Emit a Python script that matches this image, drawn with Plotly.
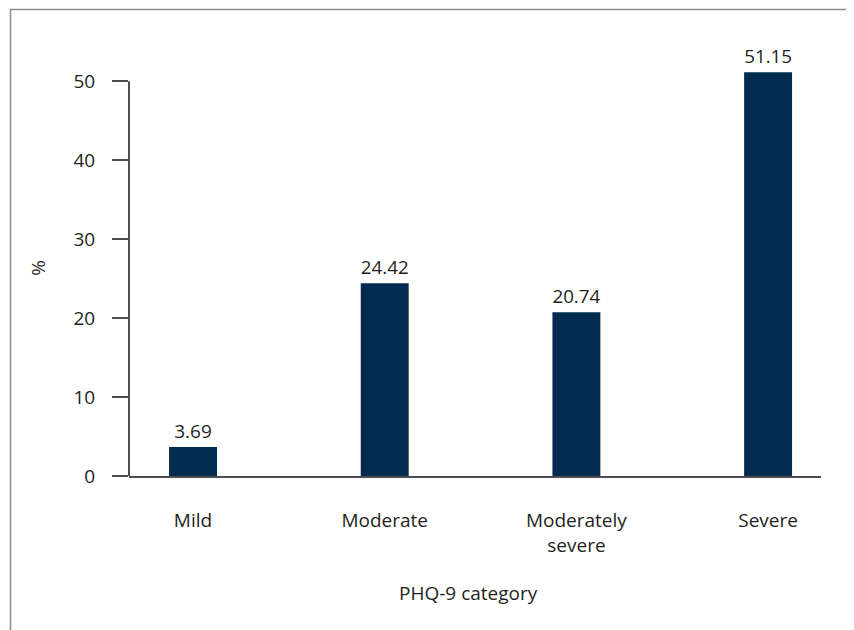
import plotly.graph_objects as go

categories = ["Mild", "Moderate", "Moderately<br>severe", "Severe"]
values = [3.69, 24.42, 20.74, 51.15]
value_labels = ["3.69", "24.42", "20.74", "51.15"]
y_ticks = [0, 10, 20, 30, 40, 50]
x_title = "PHQ-9 category"
y_title = "%"

# page body has an 8px default margin, so the figure is offset by 8px
OFF = 8
W, H = 846, 622
L, R, T = 121, 33, 26
pw = W - L - R
ph = 442.4
B = H - T - ph

def px(x):
    return (x - OFF - L) / pw

def py(y):
    return (H - B - (y - OFF)) / ph

FONT = "Open Sans"
FS = 19
TXT = "#231f20"
AX = "#4d4d4d"

fig = go.Figure(go.Bar(
    x=list(range(len(categories))),
    y=values,
    width=0.25,
    marker=dict(color="#022b4f", line=dict(width=0)),
    text=value_labels,
    textposition="outside",
    textfont=dict(family=FONT, size=FS, color=TXT),
    cliponaxis=False,
))

fig.update_layout(
    width=W, height=H,
    margin=dict(l=L, r=R, t=T, b=B),
    plot_bgcolor="white", paper_bgcolor="white",
    showlegend=False,
    font=dict(family=FONT, size=FS, color=TXT),
    xaxis=dict(
        tickmode="array",
        tickvals=list(range(len(categories))),
        ticktext=categories,
        range=[-0.334, 3.276],
        showline=True, linecolor=AX, linewidth=2,
        ticks="", showgrid=False, zeroline=False,
        ticklabelstandoff=26,
        automargin=False,
    ),
    yaxis=dict(
        range=[0, 56],
        tickmode="array", tickvals=y_ticks,
        showline=False,
        ticks="outside", ticklen=16, tickwidth=2, tickcolor=AX,
        showgrid=False, zeroline=False,
        ticklabelstandoff=13,
        automargin=False,
    ),
    annotations=[
        dict(text=x_title, xref="paper", yref="paper",
             x=px(468), y=py(594), xanchor="center", yanchor="middle",
             showarrow=False, font=dict(family=FONT, size=FS, color=TXT)),
        dict(text=y_title, xref="paper", yref="paper",
             x=px(38), y=py(268), xanchor="center", yanchor="middle",
             textangle=-90,
             showarrow=False, font=dict(family=FONT, size=FS, color=TXT)),
    ],
    shapes=[
        dict(type="line", xref="paper", yref="y",
             x0=0, x1=0, y0=0, y1=50,
             line=dict(color=AX, width=2)),
        dict(type="line", xref="paper", yref="paper",
             x0=px(10), x1=px(849), y0=py(9.5), y1=py(9.5),
             line=dict(color="#8c8c8c", width=1.5)),
        dict(type="line", xref="paper", yref="paper",
             x0=px(10.5), x1=px(10.5), y0=py(9), y1=py(640),
             line=dict(color="#8c8c8c", width=1.5)),
        dict(type="line", xref="paper", yref="paper",
             x0=px(850), x1=px(850), y0=py(9), y1=py(640),
             line=dict(color="#e4e4e4", width=1)),
    ],
)

fig.write_html("out.html")
